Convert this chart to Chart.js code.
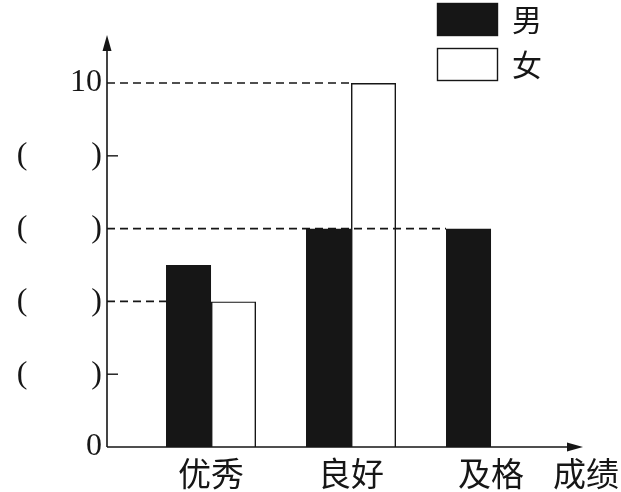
<!DOCTYPE html>
<html>
<head>
<meta charset="utf-8">
<script src="https://cdn.jsdelivr.net/npm/chart.js@4.4.0/dist/chart.umd.min.js"></script>
<style>
  body { margin: 0; background: #fff; }
  #wrap { width: 621px; height: 492px; position: relative; }
</style>
</head>
<body>
<div id="wrap"><canvas id="chart1"></canvas></div>
<script>
// categories and counts
const categories = ['优秀', '良好', '及格'];
const boys = [5, 6, 6];
const girls = [4, 10, 0];
const yTicks = [0, 2, 4, 6, 8, 10];
const guideValues = [10, 6, 4];   // dashed lines from the axis to the bar
const xTitle = '成绩';

const ink = '#161616';
const serif = "'Liberation Serif', 'DejaVu Serif', serif";
const cjk = "'Noto Sans CJK SC', sans-serif";

// dashed guides, drawn under the bars so the black bars hide them
const guides = {
    id: 'guides',
    beforeDatasetsDraw(chart) {
        const ctx = chart.ctx;
        const y = chart.scales.y;
        const left = chart.chartArea.left;
        ctx.save();
        ctx.strokeStyle = ink;
        ctx.lineWidth = 1.6;
        ctx.setLineDash([8, 5]);
        guideValues.forEach(v => {
            let end = left;
            chart.data.datasets.forEach((ds, di) => {
                chart.getDatasetMeta(di).data.forEach((bar, i) => {
                    if (ds.data[i].y === v) {
                        const p = bar.getProps(['x', 'width'], true);
                        end = Math.max(end, p.x - p.width / 2);
                    }
                });
            });
            const py = y.getPixelForValue(v);
            ctx.beginPath();
            ctx.moveTo(left, py);
            ctx.lineTo(end, py);
            ctx.stroke();
        });
        ctx.restore();
    }
};

// axes with arrows, tick marks, legend and the x title
const decor = {
    id: 'decor',
    afterDatasetsDraw(chart) {
        const ctx = chart.ctx;
        const a = chart.chartArea;
        const y = chart.scales.y;
        ctx.save();
        ctx.strokeStyle = ink;
        ctx.fillStyle = ink;
        ctx.lineWidth = 1.6;
        ctx.beginPath();
        ctx.moveTo(a.left, a.bottom);
        ctx.lineTo(a.left, a.top + 8);
        ctx.moveTo(a.left, a.bottom);
        ctx.lineTo(a.right - 8, a.bottom);
        ctx.stroke();
        // arrow heads
        ctx.beginPath();
        ctx.moveTo(a.left, a.top);
        ctx.lineTo(a.left - 4.5, a.top + 16);
        ctx.lineTo(a.left + 4.5, a.top + 16);
        ctx.closePath();
        ctx.fill();
        ctx.beginPath();
        ctx.moveTo(a.right, a.bottom);
        ctx.lineTo(a.right - 16, a.bottom - 4.5);
        ctx.lineTo(a.right - 16, a.bottom + 4.5);
        ctx.closePath();
        ctx.fill();
        // short ticks where there is no dashed guide
        ctx.lineWidth = 1.4;
        yTicks.forEach(v => {
            if (v === 0 || guideValues.includes(v)) return;
            const py = y.getPixelForValue(v);
            ctx.beginPath();
            ctx.moveTo(a.left, py);
            ctx.lineTo(a.left + 11, py);
            ctx.stroke();
        });
        // legend
        ctx.textAlign = 'left';
        ctx.textBaseline = 'middle';
        ctx.font = '30px ' + cjk;
        chart.data.datasets.forEach((ds, i) => {
            const top = 3 + i * 45;
            ctx.fillStyle = ds.backgroundColor;
            ctx.fillRect(437, top, 60, 32);
            ctx.lineWidth = 1.4;
            ctx.strokeStyle = ink;
            ctx.strokeRect(437.5, top + 0.5, 60, 32);
            ctx.fillStyle = ink;
            ctx.fillText(ds.label, 512, top + 17);
        });
        // x title
        ctx.font = '33px ' + cjk;
        ctx.textAlign = 'right';
        ctx.fillText(xTitle, 619, 473);
        ctx.restore();
    }
};

const ctx1 = document.getElementById('chart1').getContext('2d');
const chart1 = new Chart(ctx1, {
    type: 'bar',
    data: {
        datasets: [
            {
                label: '男',
                data: boys.map((v, i) => ({ x: i + 1, y: v })),
                backgroundColor: ink,
                borderWidth: 0
            },
            {
                label: '女',
                data: girls.map((v, i) => ({ x: i + 1, y: v })),
                backgroundColor: 'rgba(255,255,255,0)',
                borderColor: ink,
                borderWidth: 1.4
            }
        ]
    },
    options: {
        responsive: true,
        maintainAspectRatio: false,
        animation: false,
        categoryPercentage: 0.643,
        barPercentage: 1,
        layout: { padding: { top: 35, right: 38, left: 0, bottom: 0 } },
        plugins: {
            legend: { display: false },
            tooltip: { enabled: false }
        },
        scales: {
            x: {
                type: 'linear',
                min: 0.257,
                max: 3.657,
                bounds: 'data',
                offset: false,
                grid: { display: false, drawTicks: false, offset: false },
                border: { display: false },
                afterFit(scale) { scale.height = 45; },
                afterBuildTicks(scale) {
                    scale.ticks = categories.map((c, i) => ({ value: i + 1 }));
                },
                ticks: {
                    padding: 7,
                    color: ink,
                    font: { family: cjk, size: 33 },
                    callback: (v) => categories[Math.round(v) - 1] || ''
                }
            },
            y: {
                min: 0,
                max: 11.32,
                grid: { display: false, drawTicks: false },
                border: { display: false },
                afterFit(scale) { scale.width = 107; },
                afterBuildTicks(scale) {
                    scale.ticks = yTicks.map(v => ({ value: v }));
                },
                ticks: {
                    padding: 5,
                    color: ink,
                    font: { family: serif, size: 32 },
                    callback: (v) => (v === 0 || v === 10) ? String(v) : '(        )'
                }
            }
        }
    },
    plugins: [guides, decor]
});
</script>
</body>
</html>
